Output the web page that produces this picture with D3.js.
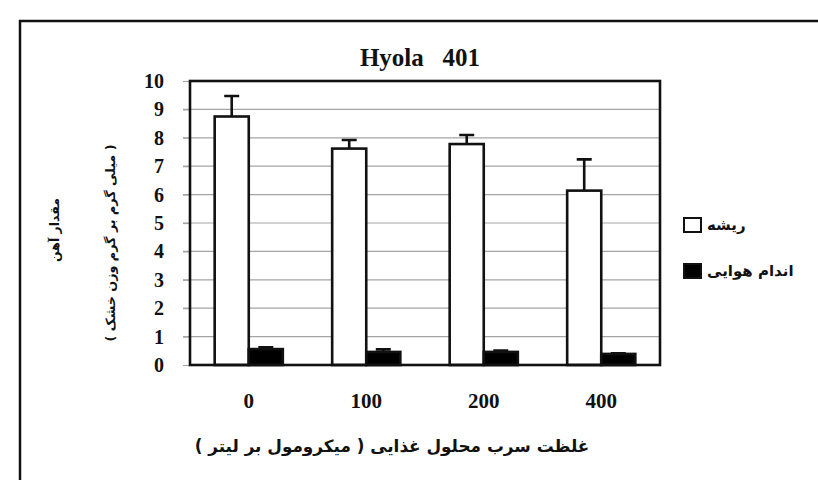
<!DOCTYPE html>
<html>
<head>
<meta charset="utf-8">
<script src="https://cdn.jsdelivr.net/npm/d3@7/dist/d3.min.js"></script>
<style>
  html, body { margin: 0; padding: 0; background: #fff; }
  svg { display: block; }
</style>
</head>
<body>
<div id="chart"></div>
<script>
// data
const categories = ["0", "100", "200", "400"];
const seriesNames = ["ریشه", "اندام هوایی"];
const rootValues = [8.75, 7.62, 7.78, 6.14];
const rootErrors = [0.72, 0.3, 0.32, 1.1];
const shootValues = [0.56, 0.46, 0.46, 0.39];
const shootErrors = [0.06, 0.09, 0.05, 0.02];
const yTicks = [0, 1, 2, 3, 4, 5, 6, 7, 8, 9, 10];

const width = 818;
const height = 480;
const plot = { left: 190, right: 660, top: 81, bottom: 365 };

const svg = d3
  .select("#chart")
  .append("svg")
  .attr("width", width)
  .attr("height", height);

// outer frame of the scanned figure
svg
  .append("path")
  .attr("d", `M 20 ${height + 5} L 20 21 L ${width + 5} 21`)
  .attr("fill", "none")
  .attr("stroke", "#111")
  .attr("stroke-width", 2.5);

const x0 = d3
  .scaleBand()
  .domain(categories)
  .range([plot.left, plot.right])
  .paddingInner(0.42)
  .paddingOuter(0.21);

const x1 = d3
  .scaleBand()
  .domain(seriesNames)
  .range([0, x0.bandwidth()]);

const y = d3.scaleLinear().domain([0, 10]).range([plot.bottom, plot.top]);

// gridlines, running a little past the left axis like ticks
svg
  .append("g")
  .selectAll("line")
  .data(yTicks.filter((d) => d > 0 && d < 10))
  .enter()
  .append("line")
  .attr("x1", plot.left - 7)
  .attr("x2", plot.right)
  .attr("y1", (d) => y(d))
  .attr("y2", (d) => y(d))
  .attr("stroke", "#a5a5a5")
  .attr("stroke-width", 1.2);

// y axis labels
const yAxis = d3
  .axisLeft(y)
  .tickValues(yTicks)
  .tickSize(7)
  .tickPadding(19)
  .tickFormat(d3.format("d"));

const yg = svg
  .append("g")
  .attr("transform", `translate(${plot.left},0)`)
  .call(yAxis);
yg.select(".domain").remove();
yg.selectAll(".tick line").attr("stroke", "#a5a5a5").attr("stroke-width", 1.2);
yg.selectAll(".tick text")
  .attr("fill", "#111")
  .style("font-family", "Liberation Serif")
  .style("font-weight", "bold")
  .style("font-size", "20px");

const rows = categories.map((c, i) => ({
  cat: c,
  vals: [
    { s: seriesNames[0], v: rootValues[i], e: rootErrors[i], fill: "#fff" },
    { s: seriesNames[1], v: shootValues[i], e: shootErrors[i], fill: "#000" },
  ],
}));

const groups = svg
  .append("g")
  .selectAll("g")
  .data(rows)
  .enter()
  .append("g")
  .attr("transform", (d) => `translate(${x0(d.cat)},0)`);

// error bars first, so the bars sit on the stems
groups
  .selectAll(".err")
  .data((d) => d.vals)
  .enter()
  .append("path")
  .attr("class", "err")
  .attr("d", (d) => {
    const cx = x1(d.s) + x1.bandwidth() / 2;
    return `M ${cx} ${y(d.v)} L ${cx} ${y(d.v + d.e)} M ${cx - 7.5} ${y(d.v + d.e)} L ${cx + 7.5} ${y(d.v + d.e)}`;
  })
  .attr("fill", "none")
  .attr("stroke", "#111")
  .attr("stroke-width", 2.6);

groups
  .selectAll("rect")
  .data((d) => d.vals)
  .enter()
  .append("rect")
  .attr("x", (d) => x1(d.s))
  .attr("y", (d) => y(d.v))
  .attr("width", x1.bandwidth())
  .attr("height", (d) => y(0) - y(d.v))
  .attr("fill", (d) => d.fill)
  .attr("stroke", "#111")
  .attr("stroke-width", 2.6);

// plot frame
svg
  .append("rect")
  .attr("x", plot.left)
  .attr("y", plot.top)
  .attr("width", plot.right - plot.left)
  .attr("height", plot.bottom - plot.top)
  .attr("fill", "none")
  .attr("stroke", "#111")
  .attr("stroke-width", 2.6);

// x labels
const xAxis = d3.axisBottom(x0).tickSize(0).tickPadding(28);
const xg = svg
  .append("g")
  .attr("transform", `translate(0,${plot.bottom})`)
  .call(xAxis);
xg.select(".domain").remove();
xg.selectAll(".tick text")
  .attr("fill", "#111")
  .style("font-family", "Liberation Serif")
  .style("font-weight", "bold")
  .style("font-size", "21px");

// title
svg
  .append("text")
  .attr("x", 420)
  .attr("y", 66)
  .attr("text-anchor", "middle")
  .style("font-family", "Liberation Serif")
  .style("font-weight", "bold")
  .style("font-size", "25px")
  .style("white-space", "pre")
  .attr("fill", "#111")
  .text("Hyola   401");

// helper: fit a persian label into a measured width
function fitText(sel, target) {
  const w = sel.node().getComputedTextLength();
  const fs = parseFloat(sel.style("font-size"));
  sel.style("font-size", (fs * target) / w + "px");
}

const RLM = "\u200F";

const xTitle = svg
  .append("text")
  .attr("x", 392)
  .attr("y", 452)
  .attr("text-anchor", "middle")
  .style("font-family", "DejaVu Sans")
  .style("font-weight", "bold")
  .style("font-size", "15px")
  .attr("fill", "#111")
  .text(RLM + "غلظت سرب محلول غذایی ( میکرومول بر لیتر )" + RLM);
fitText(xTitle, 395);

svg
  .append("text")
  .attr("transform", "translate(59,230) rotate(-90)")
  .attr("text-anchor", "middle")
  .style("font-family", "DejaVu Sans")
  .style("font-weight", "bold")
  .style("font-size", "12.5px")
  .attr("fill", "#111")
  .text("مقدار آهن");

const yTitle2 = svg
  .append("text")
  .attr("transform", "translate(115,243) rotate(-90)")
  .attr("text-anchor", "middle")
  .style("font-family", "DejaVu Sans")
  .style("font-weight", "bold")
  .style("font-size", "13px")
  .attr("fill", "#111")
  .text(RLM + "( میلی گرم بر گرم وزن خشک )" + RLM);
fitText(yTitle2, 197);

// legend
const legend = svg.append("g").attr("transform", "translate(684,0)");
const legendY = [225, 271];
seriesNames.forEach((name, i) => {
  legend
    .append("rect")
    .attr("x", 0)
    .attr("y", legendY[i] - 7)
    .attr("width", 17)
    .attr("height", 14)
    .attr("fill", i === 0 ? "#fff" : "#000")
    .attr("stroke", "#111")
    .attr("stroke-width", 2);
  legend
    .append("text")
    .attr("x", 23)
    .attr("y", legendY[i] + 5)
    .style("font-family", "DejaVu Sans")
    .style("font-weight", "bold")
    .style("font-size", "15px")
    .attr("fill", "#111")
    .text(name);
});
</script>
</body>
</html>
